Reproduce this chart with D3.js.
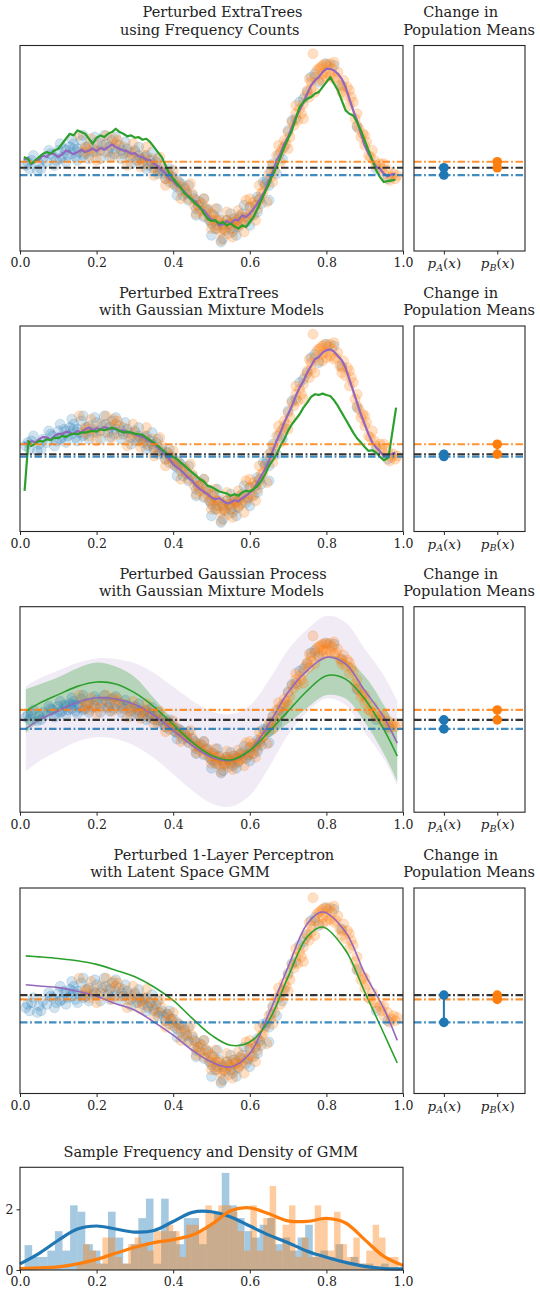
<!DOCTYPE html>
<html><head><meta charset="utf-8">
<script src="https://cdn.jsdelivr.net/npm/d3@7/dist/d3.min.js"></script>
<style>
body{margin:0;background:#fff}
svg{display:block}
text{font-family:"DejaVu Serif",serif;fill:#222}
</style>
</head><body>
<svg id="c" width="540" height="1296"></svg>
<script>
// ---------------- DATA ----------------
const xTicks = [0, 0.2, 0.4, 0.6, 0.8, 1.0];
const meanCats = ["A", "B"];
const titles = [
  ["Perturbed ExtraTrees", "using Frequency Counts"],
  ["Perturbed ExtraTrees", "with Gaussian Mixture Models"],
  ["Perturbed Gaussian Process", "with Gaussian Mixture Models"],
  ["Perturbed 1-Layer Perceptron", "with Latent Space GMM"]
];
const sideTitle = ["Change in", "Population Means"];
const histTitle = "Sample Frequency and Density of GMM";

// y-limits of each main panel
const yLimits = [[-2.52, 3.65], [-2.52, 3.65], [-3.86, 4.60], [-2.57, 3.70]];

// population means: overall (black), group A (blue), group B (orange)
const meanAll = [-0.02, -0.20, -0.06, 0.43];
const meanA   = [-0.24, -0.27, -0.43, -0.40];
const meanB   = [0.16, 0.10, 0.35, 0.30];

// scatter samples (same in all four panels)
const blueX = [0.015,0.025,0.03,0.045,0.06,0.07,0.085,0.095,0.10,0.11,0.115,0.125,0.13,0.135,0.14,0.145,0.15,0.155,0.16,0.17,0.18,0.19,0.20,0.21,0.225,0.23,0.24,0.25,0.26,0.27,0.28,0.29,0.30,0.305,0.31,0.32,0.33,0.335,0.34,0.35,0.355,0.36,0.37,0.38,0.385,0.39,0.40,0.41,0.42,0.425,0.43,0.44,0.45,0.46,0.47,0.48,0.49,0.50,0.505,0.51,0.52,0.525,0.53,0.535,0.54,0.55,0.56,0.57,0.58,0.59,0.60,0.61,0.62,0.63,0.64,0.65,0.66,0.67,0.69,0.70,0.72,0.74,0.76,0.78,0.80,0.82,0.84,0.88,0.93,0.96,
  0.02,0.05,0.08,0.105,0.12,0.14,0.165,0.175,0.195,0.215,0.235,0.245,0.265,0.285,0.315,0.325,0.345,0.365,0.375,0.395,0.405,0.415,0.435,0.455,0.465,0.485,0.495,0.515,0.545,0.555,0.565,0.575,0.595,0.615,0.625,0.645,0.655,0.675,0.71,0.77];
const blueY = [0.05,-0.05,0.20,-0.10,0.25,0.15,0.35,0.20,0.50,0.30,0.55,0.35,0.60,0.40,0.70,0.30,0.55,0.45,0.80,0.40,0.65,0.45,0.75,0.50,0.70,0.45,0.80,0.55,0.65,0.40,0.55,0.30,0.50,0.20,0.35,0.15,0.35,0.05,0.20,-0.05,0.15,-0.20,-0.05,-0.35,-0.15,-0.45,-0.30,-0.60,-0.50,-0.85,-0.65,-1.00,-0.85,-1.25,-1.05,-1.50,-1.30,-1.70,-1.45,-1.85,-1.55,-2.25,-1.75,-1.90,-1.60,-1.85,-1.55,-1.80,-1.40,-1.65,-1.20,-1.45,-0.90,-1.10,-0.50,-0.55,0.10,-0.20,0.60,1.10,1.45,2.05,2.70,2.55,3.10,3.05,2.45,1.20,-0.05,-0.35,
  0.15,0.10,0.40,0.25,0.50,0.55,0.35,0.60,0.50,0.65,0.60,0.40,0.50,0.45,0.25,0.30,0.10,-0.10,-0.20,-0.30,-0.55,-0.45,-0.80,-0.95,-1.15,-1.25,-1.60,-1.75,-1.70,-1.95,-1.65,-1.50,-1.50,-1.15,-0.95,-0.40,-0.15,0.35,1.40,2.80];
const blueExtra = [[0.035,0.35],[0.055,-0.05],[0.075,0.50],[0.09,0.05],[0.105,0.70],[0.12,0.15],[0.135,0.85],[0.15,0.20],[0.165,0.95],[0.18,0.25],[0.195,0.90],[0.21,0.25],[0.22,0.95],[0.235,0.30],[0.25,0.90],[0.265,0.25],[0.275,0.75],[0.29,0.10],[0.31,0.60],[0.33,-0.05],[0.345,0.45],[0.36,0.25],[0.39,-0.05],[0.41,-0.85],[0.44,-0.55],[0.46,-1.45],[0.48,-0.95],[0.50,-2.05],[0.515,-1.25],[0.53,-2.15],[0.55,-1.40],[0.565,-2.05],[0.585,-1.15],[0.60,-1.75],[0.62,-1.35],[0.635,-0.45],[0.65,-1.00],[0.685,0.25],[0.73,1.95],[0.75,2.25]];
const orangeX = [0.155,0.165,0.17,0.18,0.19,0.21,0.22,0.235,0.245,0.26,0.27,0.285,0.30,0.31,0.325,0.335,0.345,0.36,0.37,0.38,0.385,0.39,0.40,0.41,0.42,0.43,0.44,0.45,0.455,0.46,0.47,0.475,0.48,0.49,0.495,0.50,0.505,0.51,0.515,0.52,0.525,0.53,0.535,0.54,0.545,0.55,0.555,0.56,0.565,0.57,0.575,0.58,0.59,0.595,0.60,0.605,0.61,0.62,0.63,0.64,0.65,0.66,0.665,0.67,0.675,0.68,0.69,0.70,0.705,0.71,0.72,0.725,0.73,0.74,0.745,0.75,0.755,0.76,0.765,0.77,0.775,0.78,0.785,0.79,0.795,0.80,0.805,0.81,0.815,0.82,0.83,0.835,0.84,0.85,0.855,0.86,0.87,0.875,0.88,0.885,0.89,0.90,0.905,0.91,0.92,0.93,0.94,0.95,0.96,0.97,0.985,
  0.175,0.20,0.25,0.29,0.32,0.35,0.395,0.415,0.435,0.465,0.485,0.50,0.515,0.53,0.545,0.56,0.575,0.585,0.60,0.615,0.625,0.635,0.655,0.685,0.695,0.715,0.735,0.76,0.78,0.79,0.80,0.81,0.825,0.845,0.865,0.895,0.915,0.945,0.975,0.98];
const orangeY = [0.95,0.45,0.60,0.35,0.55,0.70,0.45,0.65,0.85,0.40,0.60,0.30,0.45,0.20,0.35,0.10,0.25,-0.10,0.05,-0.35,-0.15,-0.25,-0.50,-0.40,-0.70,-0.60,-0.95,-0.80,-1.15,-1.00,-1.30,-1.10,-1.45,-1.25,-1.60,-1.40,-1.75,-1.55,-1.85,-1.60,-1.95,-1.70,-1.85,-1.60,-2.00,-1.75,-1.55,-1.85,-1.60,-1.75,-1.45,-1.65,-1.00,-1.55,-1.20,-1.45,-1.05,-1.25,-0.80,-0.55,-0.20,0.05,-0.10,0.35,0.65,0.45,0.80,1.05,0.90,1.35,1.60,1.40,1.75,1.90,2.15,2.30,2.10,2.55,3.40,2.70,2.90,2.60,3.00,2.80,3.10,2.85,3.05,2.75,2.95,2.65,2.85,2.45,2.40,2.15,2.40,1.85,1.95,1.45,1.60,1.15,0.90,0.65,0.75,0.35,0.50,0.05,0.10,-0.20,-0.10,-0.30,-0.25,
  0.55,0.45,0.70,0.40,0.25,0.00,-0.35,-0.55,-0.75,-1.15,-1.35,-1.55,-1.60,-1.85,-1.70,-1.65,-1.70,-1.50,-1.40,-1.15,-1.00,-0.75,-0.30,0.55,0.70,1.25,1.60,2.35,2.95,3.05,2.70,3.10,2.70,2.60,2.10,1.00,0.30,-0.05,-0.20,-0.35];
const orangeExtra = [[0.185,0.85],[0.20,0.20],[0.225,0.95],[0.24,0.30],[0.255,0.80],[0.28,0.05],[0.295,0.70],[0.315,0.00],[0.33,0.60],[0.35,-0.25],[0.365,0.30],[0.38,-0.55],[0.40,-0.10],[0.42,-0.95],[0.445,-0.50],[0.46,-1.40],[0.48,-0.95],[0.50,-1.85],[0.51,-1.25],[0.525,-2.20],[0.54,-1.35],[0.555,-2.10],[0.57,-1.30],[0.585,-1.95],[0.60,-0.95],[0.615,-1.60],[0.625,-0.55],[0.645,-1.05],[0.66,-0.45],[0.68,0.15],[0.70,0.55],[0.72,1.85],[0.74,1.45],[0.755,2.65],[0.77,2.25],[0.79,2.60],[0.82,3.15],[0.84,2.25],[0.86,2.30],[0.88,1.25],[0.90,0.95],[0.925,0.20],[0.95,0.10],[0.965,-0.40]];

// ExtraTrees predictions [x, y]
const et1Purple = [[0.01,0.22],[0.02,0.28],[0.03,0.10],[0.04,0.18],[0.05,0.22],[0.06,0.35],[0.07,0.30],[0.08,0.42],[0.09,0.38],[0.10,0.30],[0.11,0.38],[0.12,0.50],[0.13,0.45],[0.14,0.38],[0.15,0.45],[0.16,0.52],[0.17,0.45],[0.18,0.50],[0.19,0.55],[0.20,0.48],[0.21,0.58],[0.22,0.52],[0.23,0.60],[0.24,0.68],[0.25,0.60],[0.26,0.55],[0.27,0.50],[0.28,0.48],[0.29,0.40],[0.30,0.42],[0.31,0.32],[0.32,0.30],[0.33,0.22],[0.34,0.20],[0.35,0.10],[0.36,0.02],[0.37,-0.10],[0.38,-0.18],[0.39,-0.35],[0.40,-0.42],[0.41,-0.55],[0.42,-0.62],[0.43,-0.75],[0.44,-0.90],[0.45,-0.98],[0.46,-1.05],[0.47,-1.25],[0.48,-1.30],[0.49,-1.45],[0.50,-1.58],[0.51,-1.60],[0.52,-1.75],[0.53,-1.72],[0.54,-1.62],[0.55,-1.70],[0.56,-1.58],[0.57,-1.60],[0.58,-1.45],[0.59,-1.50],[0.60,-1.40],[0.61,-1.25],[0.62,-1.10],[0.63,-0.90],[0.64,-0.70],[0.65,-0.40],[0.66,-0.15],[0.67,0.20],[0.68,0.40],[0.69,0.70],[0.70,0.90],[0.71,1.20],[0.72,1.50],[0.73,1.70],[0.74,1.95],[0.75,2.20],[0.76,2.45],[0.77,2.60],[0.78,2.70],[0.79,2.85],[0.80,2.95],[0.81,2.95],[0.82,2.90],[0.83,2.80],[0.84,2.65],[0.85,2.40],[0.86,2.05],[0.87,1.70],[0.88,1.40],[0.89,1.00],[0.90,0.65],[0.91,0.40],[0.92,0.20],[0.93,0.00],[0.94,-0.05],[0.95,-0.20],[0.96,-0.28],[0.97,-0.22],[0.98,-0.20]];
const et1Green = [[0.01,0.30],[0.02,0.25],[0.03,0.10],[0.04,0.20],[0.05,0.30],[0.06,0.40],[0.07,0.45],[0.08,0.40],[0.09,0.50],[0.10,0.55],[0.11,0.70],[0.12,0.85],[0.13,1.00],[0.14,0.95],[0.15,1.10],[0.16,1.05],[0.17,1.00],[0.18,0.85],[0.19,0.70],[0.20,0.88],[0.21,0.95],[0.22,0.90],[0.23,1.00],[0.24,1.05],[0.25,1.15],[0.26,1.05],[0.27,1.00],[0.28,0.92],[0.29,0.95],[0.30,0.88],[0.31,0.90],[0.32,0.82],[0.33,0.85],[0.34,0.75],[0.35,0.60],[0.36,0.45],[0.37,0.30],[0.38,0.05],[0.39,-0.20],[0.40,-0.35],[0.41,-0.50],[0.42,-0.62],[0.43,-0.80],[0.44,-0.88],[0.45,-1.00],[0.46,-1.12],[0.47,-1.20],[0.48,-1.40],[0.49,-1.55],[0.50,-1.62],[0.51,-1.60],[0.52,-1.70],[0.53,-1.65],[0.54,-1.75],[0.55,-1.70],[0.56,-1.78],[0.57,-1.85],[0.58,-1.75],[0.59,-1.80],[0.60,-1.65],[0.61,-1.50],[0.62,-1.25],[0.63,-1.00],[0.64,-0.75],[0.65,-0.50],[0.66,-0.22],[0.67,0.00],[0.68,0.30],[0.69,0.60],[0.70,0.85],[0.71,1.10],[0.72,1.45],[0.73,1.80],[0.74,1.95],[0.75,2.05],[0.76,2.10],[0.77,2.20],[0.78,2.25],[0.79,2.40],[0.80,2.55],[0.81,2.70],[0.82,2.50],[0.83,2.30],[0.84,2.00],[0.85,1.70],[0.86,1.60],[0.87,1.55],[0.88,1.35],[0.89,1.10],[0.90,0.80],[0.91,0.50],[0.92,0.20],[0.93,-0.10],[0.94,-0.30],[0.95,-0.45],[0.96,-0.42],[0.97,-0.40],[0.98,-0.38]];
const et2Purple = [[0.01,0.15],[0.02,0.08],[0.03,0.20],[0.04,0.15],[0.05,0.25],[0.06,0.32],[0.07,0.30],[0.08,0.25],[0.09,0.35],[0.10,0.42],[0.11,0.40],[0.12,0.48],[0.13,0.45],[0.14,0.40],[0.15,0.50],[0.16,0.45],[0.17,0.55],[0.18,0.60],[0.19,0.52],[0.20,0.58],[0.21,0.55],[0.22,0.62],[0.23,0.58],[0.24,0.55],[0.25,0.58],[0.26,0.50],[0.27,0.52],[0.28,0.45],[0.29,0.45],[0.30,0.40],[0.31,0.35],[0.32,0.32],[0.33,0.25],[0.34,0.18],[0.35,0.10],[0.36,0.00],[0.37,-0.10],[0.38,-0.22],[0.39,-0.35],[0.40,-0.50],[0.41,-0.60],[0.42,-0.68],[0.43,-0.80],[0.44,-0.92],[0.45,-1.00],[0.46,-1.15],[0.47,-1.25],[0.48,-1.32],[0.49,-1.40],[0.50,-1.50],[0.51,-1.55],[0.52,-1.52],[0.53,-1.60],[0.54,-1.68],[0.55,-1.65],[0.56,-1.58],[0.57,-1.62],[0.58,-1.52],[0.59,-1.45],[0.60,-1.35],[0.61,-1.25],[0.62,-1.05],[0.63,-0.85],[0.64,-0.65],[0.65,-0.40],[0.66,-0.10],[0.67,0.20],[0.68,0.45],[0.69,0.75],[0.70,1.00],[0.71,1.25],[0.72,1.55],[0.73,1.80],[0.74,2.00],[0.75,2.25],[0.76,2.45],[0.77,2.65],[0.78,2.72],[0.79,2.85],[0.80,2.92],[0.81,2.95],[0.82,2.88],[0.83,2.75],[0.84,2.62],[0.85,2.40],[0.86,2.05],[0.87,1.70],[0.88,1.35],[0.89,1.00],[0.90,0.70],[0.91,0.40],[0.92,0.15],[0.93,0.00],[0.94,-0.12],[0.95,-0.25],[0.96,-0.22],[0.97,-0.20],[0.98,-0.15]];
const et2Green = [[0.012,-1.30],[0.022,0.20],[0.03,0.05],[0.04,0.12],[0.05,0.20],[0.06,0.18],[0.07,0.25],[0.08,0.22],[0.09,0.30],[0.10,0.28],[0.11,0.35],[0.12,0.32],[0.13,0.38],[0.14,0.42],[0.15,0.40],[0.16,0.45],[0.17,0.45],[0.18,0.48],[0.19,0.50],[0.20,0.48],[0.21,0.55],[0.22,0.52],[0.23,0.55],[0.24,0.60],[0.25,0.55],[0.26,0.50],[0.27,0.45],[0.28,0.48],[0.29,0.45],[0.30,0.42],[0.31,0.40],[0.32,0.38],[0.33,0.30],[0.34,0.22],[0.35,0.15],[0.36,0.05],[0.37,-0.05],[0.38,-0.15],[0.39,-0.25],[0.40,-0.28],[0.41,-0.35],[0.42,-0.45],[0.43,-0.55],[0.44,-0.65],[0.45,-0.75],[0.46,-0.85],[0.47,-0.95],[0.48,-1.02],[0.49,-1.15],[0.50,-1.18],[0.51,-1.25],[0.52,-1.32],[0.53,-1.35],[0.54,-1.38],[0.55,-1.45],[0.56,-1.40],[0.57,-1.45],[0.58,-1.35],[0.59,-1.30],[0.60,-1.32],[0.61,-1.25],[0.62,-1.15],[0.63,-1.00],[0.64,-0.80],[0.65,-0.55],[0.66,-0.38],[0.67,-0.20],[0.68,0.05],[0.69,0.25],[0.70,0.50],[0.71,0.70],[0.72,0.85],[0.73,1.00],[0.74,1.20],[0.75,1.35],[0.76,1.52],[0.77,1.60],[0.78,1.58],[0.79,1.62],[0.80,1.58],[0.81,1.55],[0.82,1.42],[0.83,1.25],[0.84,1.05],[0.85,0.85],[0.86,0.65],[0.87,0.45],[0.88,0.28],[0.89,0.15],[0.90,0.02],[0.91,-0.10],[0.92,-0.08],[0.93,-0.15],[0.94,-0.28],[0.95,-0.38],[0.962,-0.30],[0.982,1.20]];

// Gaussian process means and bands
const gpX = [0.015,0.05,0.1,0.15,0.2,0.25,0.3,0.35,0.4,0.45,0.5,0.55,0.6,0.65,0.7,0.75,0.8,0.85,0.9,0.95,0.985];
const gpPurple   = [-0.43,-0.06,0.32,0.67,0.85,0.80,0.57,0.12,-0.50,-1.12,-1.60,-1.73,-1.32,-0.22,1.08,1.97,2.52,2.25,1.15,0.05,-1.02];
const gpPurpleLo = [-2.18,-1.76,-1.33,-0.95,-0.77,-0.85,-1.13,-1.63,-2.30,-2.97,-3.50,-3.63,-3.17,-2.02,-0.67,0.27,0.82,0.55,-0.57,-1.67,-2.77];
const gpPurpleHi = [1.32,1.64,1.97,2.29,2.47,2.45,2.27,1.87,1.30,0.73,0.30,0.17,0.53,1.58,2.83,3.67,4.22,3.95,2.87,1.77,0.73];
const gpGreen    = [0.30,0.62,0.98,1.32,1.50,1.42,1.05,0.48,-0.25,-0.98,-1.52,-1.71,-1.32,-0.55,0.30,1.14,1.76,1.62,0.80,-0.45,-1.55];
const gpGreenLo  = [-0.60,-0.16,0.26,0.57,0.70,0.70,0.40,0.13,-0.43,-1.10,-1.64,-1.83,-1.47,-0.80,-0.20,0.44,0.96,0.82,-0.15,-1.45,-2.60];
const gpGreenHi  = [1.20,1.40,1.70,2.07,2.30,2.14,1.70,0.83,-0.07,-0.86,-1.40,-1.59,-1.17,-0.30,0.80,1.84,2.56,2.42,1.75,0.55,-0.50];

// perceptron predictions
const nnX = [0.015,0.05,0.1,0.15,0.2,0.25,0.3,0.35,0.4,0.45,0.5,0.55,0.6,0.65,0.7,0.75,0.79,0.85,0.9,0.95,0.985];
const nnPurple = [0.75,0.71,0.66,0.55,0.40,0.17,-0.03,-0.39,-0.79,-1.25,-1.61,-1.76,-1.35,-0.13,1.29,2.61,2.97,2.36,1.09,0.02,-0.95];
const nnGreen  = [1.63,1.60,1.55,1.48,1.37,1.19,0.99,0.68,0.27,-0.28,-0.79,-1.10,-1.00,-0.34,0.99,2.21,2.51,1.80,0.53,-0.74,-1.64];

// histogram (density) and GMM density
const blueBinStart = 0.012, blueBinWidth = 0.0198;
const blueHist = [0.82,0.43,0.43,0.64,1.28,0.64,2.13,1.92,0.85,0.64,0.21,1.92,1.07,0.21,0.85,1.71,2.35,0.21,2.35,1.28,0.85,1.71,1.71,0.85,1.49,1.92,3.20,2.13,1.71,1.28,1.07,1.49,1.71,0.85,1.07,0.64,1.07,1.49,0.43,0.64,0.43,0.85,0.21,0.43,0.21,0.21,0,0.21,0,0];
const orangeBinStart = 0.148, orangeBinWidth = 0.0168;
const orangeHist = [0.21,0.85,0.64,0.21,1.07,1.07,0.43,0.21,0.85,1.07,0.85,0.64,1.28,1.28,1.49,1.28,0.43,1.49,1.49,1.28,2.13,1.92,2.13,2.13,1.92,1.28,0.64,2.13,0.64,1.71,2.77,0.64,1.49,2.13,0.43,1.07,0.43,2.13,1.71,0.64,1.92,0.85,0.43,1.07,0.21,0.64,1.49,1.07,0.43,0.43];
const densX = [0,0.05,0.1,0.15,0.2,0.25,0.3,0.35,0.4,0.45,0.5,0.55,0.6,0.65,0.7,0.75,0.8,0.85,0.9,0.95,1.0];
const densBlue   = [0.20,0.55,0.98,1.35,1.45,1.35,1.25,1.30,1.60,1.90,1.92,1.75,1.45,1.15,0.90,0.62,0.42,0.25,0.12,0.05,0.04];
const densOrange = [0.05,0.07,0.10,0.20,0.35,0.55,0.75,0.90,1.00,1.15,1.50,1.95,2.05,1.85,1.62,1.60,1.70,1.55,1.00,0.45,0.15];
const histYTicks = [0, 2];
const histYMax = 3.384;

// ---------------- DRAWING ----------------
const COL = {blue:"#1f77b4", orange:"#ff7f0e", green:"#2ca02c", purple:"#9467bd", dark:"#333333"};
const svg = d3.select("#c");
const MX0 = 20, MX1 = 403, RX0 = 414, RX1 = 525;
const panelTop = [45.5, 326, 606.7, 888], PH = 205.5;
const FS_TICK = 12.5, FS_TITLE = 14.5;
const dash = "7.5,2.6,1.8,2.6";

const xMain = d3.scaleLinear().domain([0, 1]).range([MX0, MX1]);
const xSide = d3.scaleLinear().domain([-0.56, 1.52]).range([RX0, RX1]);

function zip(xs, ys) { return xs.map((x, i) => [x, ys[i]]); }
const bluePts = zip(blueX, blueY).concat(blueExtra);
const orangePts = zip(orangeX, orangeY).concat(orangeExtra);

function frame(g, x0, y0, w, h) {
  g.append("rect").attr("x", x0).attr("y", y0).attr("width", w).attr("height", h)
    .attr("fill", "none").attr("stroke", "#262626").attr("stroke-width", 1.1);
}

function xAxis(g, scale, y, ticks, fmt) {
  const ax = d3.axisBottom(scale).tickValues(ticks).tickSize(3.5).tickPadding(4).tickFormat(fmt);
  const a = g.append("g").attr("transform", `translate(0,${y})`).call(ax);
  a.select(".domain").remove();
  a.selectAll("line").attr("stroke", "#262626").attr("stroke-width", 1);
  a.selectAll("text").attr("font-size", FS_TICK).attr("font-family", '"DejaVu Serif",serif').attr("fill", "#222");
  return a;
}

titles.forEach((tt, p) => {
  const top = panelTop[p], bot = top + PH;
  const y = d3.scaleLinear().domain(yLimits[p]).range([bot, top]);
  const g = svg.append("g");
  const clipId = "clip" + p;
  svg.append("clipPath").attr("id", clipId).append("rect")
    .attr("x", MX0).attr("y", top).attr("width", MX1 - MX0).attr("height", PH);
  const inner = g.append("g").attr("clip-path", `url(#${clipId})`);

  if (p === 2) {
    const area = d3.area().curve(d3.curveCatmullRom).x(d => xMain(d[0])).y0(d => y(d[1])).y1(d => y(d[2]));
    inner.append("path").datum(gpX.map((x, i) => [x, gpPurpleLo[i], gpPurpleHi[i]]))
      .attr("d", area).attr("fill", COL.purple).attr("fill-opacity", 0.13);
    inner.append("path").datum(gpX.map((x, i) => [x, gpGreenLo[i], gpGreenHi[i]]))
      .attr("d", area).attr("fill", COL.green).attr("fill-opacity", 0.3);
  }

  inner.append("g").selectAll("circle").data(bluePts).join("circle")
    .attr("cx", d => xMain(d[0])).attr("cy", d => y(d[1])).attr("r", 5)
    .attr("fill", COL.blue).attr("fill-opacity", 0.2)
    .attr("stroke", COL.blue).attr("stroke-opacity", 0.16).attr("stroke-width", 1);
  inner.append("g").selectAll("circle").data(orangePts).join("circle")
    .attr("cx", d => xMain(d[0])).attr("cy", d => y(d[1])).attr("r", 5)
    .attr("fill", COL.orange).attr("fill-opacity", 0.24)
    .attr("stroke", COL.orange).attr("stroke-opacity", 0.18).attr("stroke-width", 1);

  let lines;
  if (p === 0) lines = [[et1Purple, COL.purple, 2.2, d3.curveLinear], [et1Green, COL.green, 2.2, d3.curveLinear]];
  if (p === 1) lines = [[et2Purple, COL.purple, 2.2, d3.curveLinear], [et2Green, COL.green, 2.2, d3.curveLinear]];
  if (p === 2) lines = [[zip(gpX, gpPurple), COL.purple, 1.6, d3.curveCatmullRom], [zip(gpX, gpGreen), COL.green, 1.6, d3.curveCatmullRom]];
  if (p === 3) lines = [[zip(nnX, nnPurple), COL.purple, 1.6, d3.curveCatmullRom], [zip(nnX, nnGreen), COL.green, 1.6, d3.curveCatmullRom]];
  lines.forEach(([pts, c, w, cv]) => {
    inner.append("path").datum(pts)
      .attr("d", d3.line().curve(cv).x(d => xMain(d[0])).y(d => y(d[1])))
      .attr("fill", "none").attr("stroke", c).attr("stroke-width", w).attr("stroke-linejoin", "round");
  });

  const meanLines = [[meanA[p], COL.blue, 0.85], [meanB[p], COL.orange, 0.85], [meanAll[p], COL.dark, 1]];
  [[MX0, MX1], [RX0, RX1]].forEach(([a, b]) => {
    meanLines.forEach(([v, c, o]) => {
      g.append("line").attr("x1", a).attr("x2", b).attr("y1", y(v)).attr("y2", y(v))
        .attr("stroke", c).attr("stroke-opacity", o).attr("stroke-width", 2.2).attr("stroke-dasharray", dash);
    });
  });

  const side = g.append("g");
  [[0, meanA[p], COL.blue], [1, meanB[p], COL.orange]].forEach(([ci, v, c]) => {
    side.append("line").attr("x1", xSide(ci)).attr("x2", xSide(ci))
      .attr("y1", y(meanAll[p])).attr("y2", y(v)).attr("stroke", c).attr("stroke-width", 2);
    [meanAll[p], v].forEach(vv => side.append("circle").attr("cx", xSide(ci)).attr("cy", y(vv)).attr("r", 4.8).attr("fill", c));
  });

  frame(g, MX0, top, MX1 - MX0, PH);
  frame(g, RX0, top, RX1 - RX0, PH);

  xAxis(g, xMain, bot, xTicks, d3.format(".1f"));
  const sa = xAxis(g, xSide, bot, [0, 1], () => "");
  sa.selectAll(".tick").each(function(d, i) {
    const t = d3.select(this).select("text").text(null).attr("font-size", 13.5);
    t.append("tspan").attr("font-style", "italic").text("p");
    t.append("tspan").attr("font-style", "italic").attr("font-size", 9.5).attr("dy", 2.5).text(meanCats[i]);
    t.append("tspan").attr("dy", -2.5).text("(");
    t.append("tspan").attr("font-style", "italic").text("x");
    t.append("tspan").text(")");
  });

  const tc = [[[222.5, 17.3 - 45.5], [209.7, 34.5 - 45.5]],
              [[198.9, 17.3 - 45.5], [211.5, 34.5 - 45.5]],
              [[223.0, 17.3 - 45.5], [211.5, 34.5 - 45.5]],
              [[223.9, 17.3 - 45.5], [180.0, 34.5 - 45.5]]][p];
  tt.forEach((s, i) => {
    g.append("text").attr("x", tc[i][0]).attr("y", top + tc[i][1]).attr("text-anchor", "middle")
      .attr("font-size", FS_TITLE).text(s);
  });
  sideTitle.forEach((s, i) => {
    g.append("text").attr("x", i === 0 ? 460.6 : 469.1).attr("y", top + (i === 0 ? 17.3 - 45.5 : 34.5 - 45.5))
      .attr("text-anchor", "middle").attr("font-size", FS_TITLE).text(s);
  });
});

// ---------------- HISTOGRAM PANEL ----------------
{
  const top = 1167.3, bot = 1270, HX1 = 403;
  const x = d3.scaleLinear().domain([0, 1]).range([MX0, HX1]);
  const y = d3.scaleLinear().domain([0, histYMax]).range([bot, top]);
  const g = svg.append("g");
  g.append("g").selectAll("rect").data(blueHist).join("rect")
    .attr("x", (d, i) => x(blueBinStart + i * blueBinWidth))
    .attr("width", x(blueBinWidth) - x(0))
    .attr("y", d => y(d)).attr("height", d => bot - y(d))
    .attr("fill", COL.blue).attr("fill-opacity", 0.4);
  g.append("g").selectAll("rect").data(orangeHist).join("rect")
    .attr("x", (d, i) => x(orangeBinStart + i * orangeBinWidth))
    .attr("width", x(orangeBinWidth) - x(0))
    .attr("y", d => y(d)).attr("height", d => bot - y(d))
    .attr("fill", COL.orange).attr("fill-opacity", 0.4);
  [[densBlue, COL.blue], [densOrange, COL.orange]].forEach(([ys, c]) => {
    g.append("path").datum(zip(densX, ys))
      .attr("d", d3.line().curve(d3.curveCatmullRom).x(d => x(d[0])).y(d => y(d[1])))
      .attr("fill", "none").attr("stroke", c).attr("stroke-width", 3.2);
  });
  frame(g, MX0, top, HX1 - MX0, bot - top);
  xAxis(g, x, bot, xTicks, d3.format(".1f"));
  const ay = g.append("g").attr("transform", `translate(${MX0},0)`)
    .call(d3.axisLeft(y).tickValues(histYTicks).tickSize(3.5).tickPadding(3).tickFormat(d3.format("d")));
  ay.select(".domain").remove();
  ay.selectAll("line").attr("stroke", "#262626");
  ay.selectAll("text").attr("font-size", FS_TICK).attr("font-family", '"DejaVu Serif",serif').attr("fill", "#222");
  g.append("text").attr("x", 210.8).attr("y", top - 10).attr("text-anchor", "middle")
    .attr("font-size", FS_TITLE).text(histTitle);
}
</script>
</body></html>
